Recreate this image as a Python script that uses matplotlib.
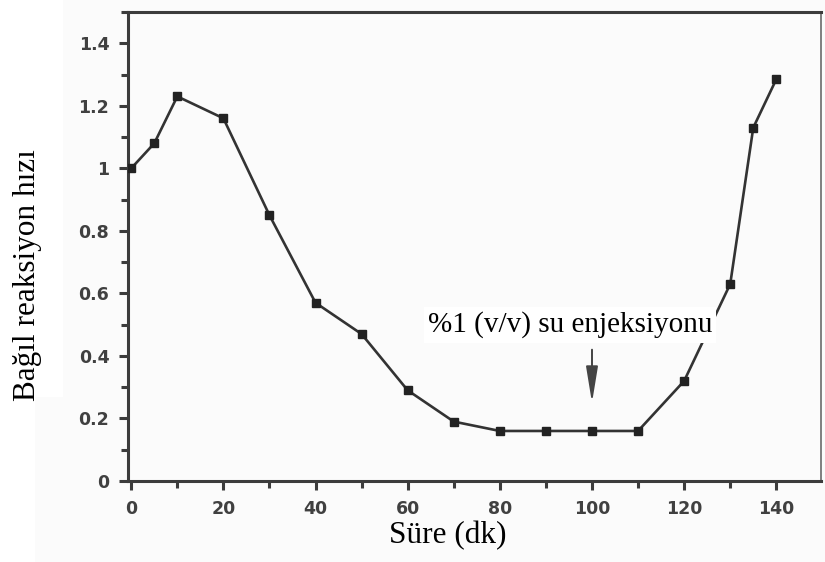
import matplotlib
matplotlib.use("Agg")
import matplotlib.pyplot as plt
from matplotlib.patches import Rectangle
from matplotlib.ticker import MultipleLocator, FixedLocator

# Relative reaction rate vs. time
time_min = [0, 5, 10, 20, 30, 40, 50, 60, 70, 80, 90, 100, 110, 120, 130, 135, 140]
rel_rate = [1.00, 1.08, 1.23, 1.16, 0.85, 0.57, 0.47, 0.29, 0.19, 0.16, 0.16, 0.16, 0.16, 0.32, 0.63, 1.13, 1.285]

x_ticks = [0, 20, 40, 60, 80, 100, 120, 140]
y_ticks = [0, 0.2, 0.4, 0.6, 0.8, 1.0, 1.2, 1.4]
y_tick_labels = ["0", "0.2", "0.4", "0.6", "0.8", "1", "1.2", "1.4"]

injection_time = 100
injection_label = "%1 (v/v) su enjeksiyonu"
x_label = "Süre (dk)"
y_label = "Bağıl reaksiyon hızı"

W, H = 825, 562
fig = plt.figure(figsize=(W / 100, H / 100), dpi=100, facecolor="white")

# faint paper tone behind the plot, white strip behind the vertical title
fig.patches.append(Rectangle((35 / W, 0), 1 - 35 / W, 1, transform=fig.transFigure,
                             facecolor="#fbfbfb", edgecolor="none", zorder=-10))
fig.patches.append(Rectangle((0, 1 - 397 / H), 63 / W, 397 / H, transform=fig.transFigure,
                             facecolor="white", edgecolor="none", zorder=-9))

ax = fig.add_axes([128 / W, 1 - 481 / H, (821 - 128) / W, (481 - 12) / H])
ax.set_facecolor("none")

ink = "#333333"
ax.plot(time_min, rel_rate, color=ink, lw=1.9, marker="s", markersize=5.5,
        markerfacecolor="#222222", markeredgecolor="#222222", zorder=3)

ax.set_xlim(-0.7, 149.7)
ax.set_ylim(0, 1.5)

ax.xaxis.set_major_locator(FixedLocator(x_ticks))
ax.xaxis.set_minor_locator(MultipleLocator(10))
ax.yaxis.set_major_locator(FixedLocator(y_ticks))
ax.set_yticklabels(y_tick_labels)
ax.yaxis.set_minor_locator(MultipleLocator(0.1))

for s in ax.spines.values():
    s.set_linewidth(2.2)
    s.set_color("#3c3c3c")
ax.spines["right"].set_linewidth(1.2)
ax.spines["right"].set_color("#6a6a6a")

ax.tick_params(axis="both", which="major", direction="out", length=6.5, width=2.2,
               color="#3c3c3c", labelsize=12.5, labelcolor="#404040")
ax.tick_params(axis="both", which="minor", direction="out", length=5, width=2.2,
               color="#3c3c3c")
ax.tick_params(axis="y", which="major", pad=7)
ax.tick_params(axis="x", which="major", pad=7)
for lab in ax.get_xticklabels() + ax.get_yticklabels():
    lab.set_fontweight("bold")
    lab.set_family("DejaVu Sans")

serif = ["Liberation Serif", "DejaVu Serif"]

# injection marker
ax.annotate("", xy=(injection_time, 0.25), xytext=(injection_time, 0.42),
            arrowprops=dict(arrowstyle="-|>,head_length=1.1,head_width=0.18",
                            mutation_scale=20, color="#444444", lw=1.4,
                            shrinkA=0, shrinkB=0), zorder=4)
ax.text(95.2, 0.476, injection_label, ha="center", va="baseline",
        fontsize=21, family=serif, color="black", zorder=6,
        bbox=dict(facecolor="white", edgecolor="none", pad=3))

fig.text(448 / W, 1 - 543 / H, x_label, ha="center", va="baseline",
         fontsize=22.5, family=serif, color="black")
fig.text(28 / W, 1 - 275 / H, y_label, ha="center", va="center", rotation=90,
         fontsize=22.5, family=serif, color="black")

fig.savefig("out.png", dpi=100, facecolor=fig.get_facecolor())
